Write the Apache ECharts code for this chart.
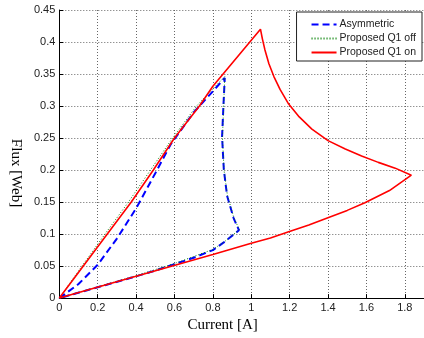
<!DOCTYPE html>
<html>
<head>
<meta charset="utf-8">
<script src="https://cdn.jsdelivr.net/npm/echarts@6/dist/echarts.min.js"></script>
<style>
html,body{margin:0;padding:0;background:#fff;}
#chart{width:424px;height:338px;}
</style>
</head>
<body>
<div id="chart"></div>
<script>
const seriesNames = ['Asymmetric', 'Proposed Q1 off', 'Proposed Q1 on'];
const xTicks = [0, 0.2, 0.4, 0.6, 0.8, 1, 1.2, 1.4, 1.6, 1.8];
const yTicks = [0, 0.05, 0.1, 0.15, 0.2, 0.25, 0.3, 0.35, 0.4, 0.45];
const xAxisTitle = 'Current [A]';
const yAxisTitle = 'Flux [Web]';

const asymCurrent = [0, 0.1, 0.2, 0.3, 0.4, 0.5, 0.58, 0.7, 0.8, 0.862, 0.855, 0.848, 0.857, 0.874, 0.908, 0.936, 0.857, 0.8, 0.7, 0.6, 0.5, 0.4, 0.2, 0];
const asymFlux    = [0, 0.022, 0.052, 0.093, 0.14, 0.195, 0.24, 0.29, 0.323, 0.344, 0.3, 0.252, 0.201, 0.16, 0.125, 0.106, 0.087, 0.075, 0.063, 0.053, 0.043, 0.034, 0.017, 0];

const q1offCurrent = [0, 0.118, 0.238, 0.36, 0.475, 0.59, 0.715, 0.8, 0.862, 0.856, 0.85, 0.858, 0.876, 0.91, 0.938, 0.86, 0.8, 0.6, 0.4, 0];
const q1offFlux    = [0, 0.05, 0.1, 0.15, 0.2, 0.25, 0.3, 0.327, 0.346, 0.3, 0.25, 0.2, 0.16, 0.125, 0.107, 0.088, 0.076, 0.054, 0.035, 0];

const q1onCurrent = [0, 0.125, 0.25, 0.375, 0.49, 0.6, 0.73, 0.8, 1.048,
  1.058, 1.071, 1.092, 1.118, 1.15, 1.195, 1.25, 1.316, 1.4, 1.49, 1.575, 1.662, 1.75, 1.834,
  1.72, 1.592, 1.5, 1.403, 1.3, 1.195, 1.1, 1.0, 0.8, 0.4, 0];
const q1onFlux    = [0, 0.05, 0.1, 0.15, 0.2, 0.25, 0.3, 0.331, 0.42,
  0.405, 0.388, 0.366, 0.346, 0.326, 0.303, 0.283, 0.264, 0.246, 0.233, 0.222, 0.212, 0.203, 0.192,
  0.168, 0.149, 0.137, 0.126, 0.114, 0.1035, 0.094, 0.0857, 0.068, 0.034, 0];

function zip(xs, ys) { return xs.map((x, i) => [x, ys[i]]); }

const chart = echarts.init(document.getElementById('chart'), null, {renderer: 'canvas'});
const gridLine = {show: true, lineStyle: {color: '#666', type: [1, 2], width: 1}};
const labelStyle = {color: '#222', fontFamily: 'Liberation Sans, Arial, sans-serif', fontSize: 11};
const option = {
  animation: false,
  backgroundColor: '#fff',
  grid: {left: 58, right: 0, top: 10, bottom: 33, containLabel: false},
  legend: {
    orient: 'vertical', right: 2, top: 12,
    data: seriesNames,
    itemWidth: 25, itemHeight: 10, itemGap: 3,
    padding: [7, 6, 3, 14],
    borderColor: '#222', borderWidth: 1, backgroundColor: '#fff', borderRadius: 0,
    itemStyle: {opacity: 0, borderWidth: 0},
    textStyle: {color: '#222', fontFamily: 'Liberation Sans, Arial, sans-serif', fontSize: 10.5, lineHeight: 11, padding: [0, 0, 0, -2]}
  },
  xAxis: {
    type: 'value', min: xTicks[0], max: 1.9, interval: xTicks[1] - xTicks[0],
    name: xAxisTitle, nameLocation: 'middle', nameGap: 13,
    nameTextStyle: {fontFamily: 'Liberation Serif, Times New Roman, serif', fontSize: 15, color: '#000', padding: [0, 38, 0, 0]},
    axisLine: {show: true, onZero: false, lineStyle: {color: '#000', width: 1}},
    axisTick: {show: true, inside: true, length: 4, lineStyle: {color: '#000'}},
    axisLabel: Object.assign({margin: 4, showMaxLabel: false}, labelStyle),
    splitLine: gridLine
  },
  yAxis: {
    type: 'value', min: yTicks[0], max: yTicks[yTicks.length - 1], interval: yTicks[1] - yTicks[0],
    name: yAxisTitle, nameLocation: 'middle', nameGap: 30, nameRotate: -90,
    nameTextStyle: {fontFamily: 'Liberation Serif, Times New Roman, serif', fontSize: 15, color: '#000', padding: [0, 0, 0, 38]},
    axisLine: {show: true, onZero: false, lineStyle: {color: '#000', width: 1}},
    axisTick: {show: true, inside: true, length: 4, lineStyle: {color: '#000'}},
    axisLabel: Object.assign({margin: 4}, labelStyle),
    splitLine: gridLine
  },
  series: [
    {name: seriesNames[0], type: 'line', symbol: 'none', z: 2, data: zip(asymCurrent, asymFlux),
     lineStyle: {color: '#0000ff', width: 2, type: [7, 4]}, itemStyle: {color: '#0000ff'}},
    {name: seriesNames[1], type: 'line', symbol: 'none', z: 3, data: zip(q1offCurrent, q1offFlux),
     lineStyle: {color: '#008000', width: 1, type: [1, 2]}, itemStyle: {color: '#008000'}},
    {name: seriesNames[2], type: 'line', symbol: 'none', z: 4, data: zip(q1onCurrent, q1onFlux),
     lineStyle: {color: '#ff0000', width: 1.6, type: 'solid'}, itemStyle: {color: '#ff0000'}}
  ]
};
chart.setOption(option);
</script>
</body>
</html>
